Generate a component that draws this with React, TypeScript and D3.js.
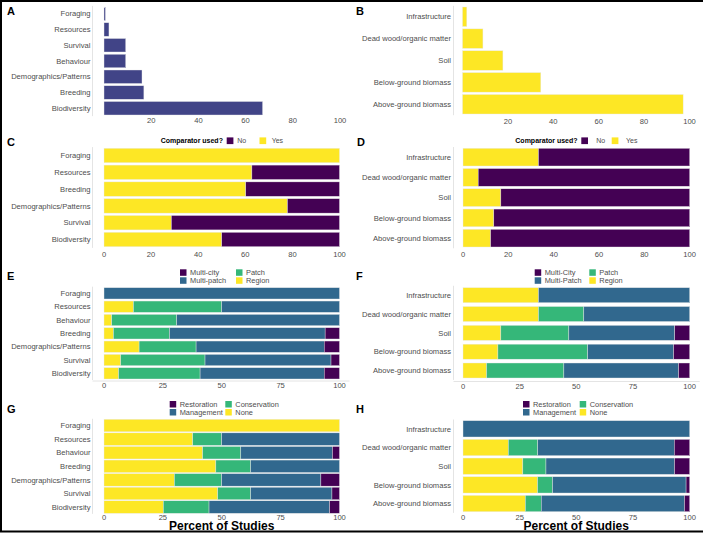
import React from "react";
import * as d3 from "d3";

// ---------- DATA ----------
const catsAnimal = ["Foraging", "Resources", "Survival", "Behaviour", "Demographics/Patterns", "Breeding", "Biodiversity"];
const valsA = [0.6, 2.1, 9.2, 9.2, 16.1, 16.9, 67.2];

const catsHabitat = ["Infrastructure", "Dead wood/organic matter", "Soil", "Below-ground biomass", "Above-ground biomass"];
const valsB = [1.9, 9, 17.8, 34.5, 97.2];

const catsC = ["Foraging", "Resources", "Breeding", "Demographics/Patterns", "Survival", "Biodiversity"];
const yesC = [100, 62.8, 60.2, 77.9, 28.6, 50];
const noC = yesC.map((v) => 100 - v);

const yesD = [33.3, 6.7, 16.7, 13.6, 12.2];
const noD = yesD.map((v) => 100 - v);

const catsE = ["Foraging", "Resources", "Behaviour", "Breeding", "Demographics/Patterns", "Survival", "Biodiversity"];
const regionE = [0, 12.5, 3.3, 4, 14.9, 7.1, 6.2];
const patchE = [0, 37.5, 27.6, 23.8, 24.2, 35.8, 34.6];
const multiPatchE = [100, 50, 69.1, 66.1, 54.4, 53.5, 52.7];
const multiCityE = [0, 0, 0, 6.1, 6.5, 3.6, 6.5];

const regionF = [33.3, 33.3, 16.7, 15.4, 10.4];
const patchF = [0, 20, 30, 39.6, 34.1];
const multiPatchF = [66.7, 46.7, 46.7, 37.9, 50.6];
const multiCityF = [0, 0, 6.6, 7.1, 4.9];

const catsG = ["Foraging", "Resources", "Behaviour", "Breeding", "Demographics/Patterns", "Survival", "Biodiversity"];
const noneG = [100, 37.7, 41.9, 47.5, 29.9, 48.3, 25.2];
const consG = [0, 12.3, 16.2, 14.8, 20.1, 14, 19.4];
const mgmtG = [0, 50, 38.9, 37.7, 42.1, 34.5, 51.2];
const restG = [0, 0, 3, 0, 7.9, 3.2, 4.2];

const noneH = [0, 20, 26.4, 32.9, 27.5];
const consH = [0, 13, 10.2, 6.6, 7];
const mgmtH = [100, 60.2, 56.7, 58.9, 63.2];
const restH = [0, 6.8, 6.7, 1.6, 2.3];

const ticksAB = [20, 40, 60, 80, 100];
const ticksCD = [0, 20, 40, 60, 80, 100];
const ticksEH = [0, 25, 50, 75, 100];

// ---------- STYLE ----------
const NAVY = "#414487";
const PURPLE = "#440154";
const BLUE = "#31688E";
const GREEN = "#35B779";
const YELLOW = "#FDE725";
const FONT = "Liberation Sans, Arial, sans-serif";
const TXT = "#4d4d4d";

type Series = { name: string; color: string; values: number[] };

type PanelProps = {
  cats: string[];
  series: Series[];
  x0: number;
  x100: number;
  top: number;
  bottom: number;
  h: number;
  ticks: number[];
  tickY: number;
  labelX: number;
  axisX: number;
  xAxisLine?: number;
};

function Panel(p: PanelProps) {
  const n = p.cats.length;
  const s = (p.bottom - p.top - p.h) / (n - 1);
  const pad = 1 - p.h / s;
  const start = p.top - (s - p.h) / 2;
  const y = d3.scaleBand<string>().domain(p.cats).range([start, start + n * s]).paddingInner(pad).paddingOuter(pad / 2);
  const x = d3.scaleLinear().domain([0, 100]).range([p.x0, p.x100]);
  const rows = p.cats.map((c, i) => {
    const o: any = { cat: c };
    p.series.forEach((se) => (o[se.name] = se.values[i]));
    return o;
  });
  const stacked = d3.stack<any>().keys(p.series.map((se) => se.name))(rows);
  return (
    <g>
      <line x1={p.axisX} x2={p.axisX} y1={start} y2={start + n * s} stroke="#e4e4e4" strokeWidth={1} />
      {p.xAxisLine !== undefined && (
        <line x1={p.axisX} x2={p.x100 + 10} y1={p.xAxisLine} y2={p.xAxisLine} stroke="#e4e4e4" strokeWidth={1} />
      )}
      {stacked.map((layer, li) => (
        <g key={li}>
          {layer.map((d, i) =>
            d[1] - d[0] > 0 ? (
              <rect
                key={i}
                x={x(d[0])}
                y={y(p.cats[i])}
                width={x(d[1]) - x(d[0])}
                height={y.bandwidth()}
                fill={p.series[li].color}
                stroke="#e8e8e8"
                strokeWidth={0.4}
              />
            ) : null
          )}
        </g>
      ))}
      {p.cats.map((c) => (
        <text key={c} x={p.labelX} y={(y(c) as number) + y.bandwidth() / 2} dy="0.35em" textAnchor="end" fontSize={7.6} fill={TXT} fontFamily={FONT}>
          {c}
        </text>
      ))}
      {p.ticks.map((t) => (
        <text key={t} x={x(t)} y={p.tickY} textAnchor="middle" fontSize={7.6} fill={TXT} fontFamily={FONT}>
          {t}
        </text>
      ))}
    </g>
  );
}

function Letter({ x, y, t }: { x: number; y: number; t: string }) {
  return (
    <text x={x} y={y} fontSize={11} fontWeight="bold" fontFamily={FONT} fill="#000">
      {t}
    </text>
  );
}

function Legend2x2({ x1, x2, y1, y2, items }: { x1: number; x2: number; y1: number; y2: number; items: [string, string][] }) {
  const pos = [
    [x1, y1],
    [x2, y1],
    [x1, y2],
    [x2, y2],
  ];
  return (
    <g>
      {items.map(([label, color], i) => (
        <g key={label}>
          <rect x={pos[i][0]} y={pos[i][1]} width={6.5} height={6.5} fill={color} />
          <text x={pos[i][0] + 10} y={pos[i][1] + 3.3} dy="0.35em" fontSize={7.4} fill={TXT} fontFamily={FONT}>
            {label}
          </text>
        </g>
      ))}
    </g>
  );
}

function CompLegend({ tx, sq1, t1, sq2, t2, cy }: { tx: number; sq1: number; t1: number; sq2: number; t2: number; cy: number }) {
  return (
    <g fontFamily={FONT}>
      <text x={tx} y={cy} dy="0.35em" fontSize={7} fontWeight="bold" fill="#000">
        Comparator used?
      </text>
      <rect x={sq1} y={cy - 3.3} width={6.7} height={6.7} fill={PURPLE} />
      <text x={t1} y={cy} dy="0.35em" fontSize={7} fill={TXT}>
        No
      </text>
      <rect x={sq2} y={cy - 3.3} width={6.7} height={6.7} fill={YELLOW} />
      <text x={t2} y={cy} dy="0.35em" fontSize={7} fill={TXT}>
        Yes
      </text>
    </g>
  );
}

export default function App() {
  const L = { x0: 104, x100: 339.5, labelX: 90.5, axisX: 92.5 };
  const R = { x0: 463, x100: 689.7, labelX: 451, axisX: 453.5 };
  return (
    <svg width={703} height={533} style={{ position: "absolute", left: 0, top: 0, background: "#fff" }}>
      <rect x={0} y={0} width={703} height={533} fill="#fff" />
      {/* A */}
      <Letter x={7} y={15} t="A" />
      <Panel cats={catsAnimal} series={[{ name: "v", color: NAVY, values: valsA }]} x0={104} x100={340} top={7} bottom={115} h={13.5} ticks={ticksAB} tickY={123} labelX={90.5} axisX={92.5} />
      {/* B */}
      <Letter x={356} y={15} t="B" />
      <Panel cats={catsHabitat} series={[{ name: "v", color: YELLOW, values: valsB }]} x0={462.5} x100={689.5} top={7} bottom={114} h={19.5} ticks={ticksAB} tickY={124} labelX={451} axisX={453.5} />
      {/* C */}
      <Letter x={7} y={146} t="C" />
      <CompLegend tx={160.7} sq1={226.7} t1={237.3} sq2={259.5} t2={271.7} cy={140.7} />
      <Panel cats={catsC} series={[{ name: "Yes", color: YELLOW, values: yesC }, { name: "No", color: PURPLE, values: noC }]} {...L} top={148.3} bottom={246.7} h={14.4} ticks={ticksCD} tickY={256.5} />
      {/* D */}
      <Letter x={357} y={146} t="D" />
      <CompLegend tx={515.3} sq1={581.3} t1={596.3} sq2={611.7} t2={626} cy={140.7} />
      <Panel cats={catsHabitat} series={[{ name: "Yes", color: YELLOW, values: yesD }, { name: "No", color: PURPLE, values: noD }]} {...R} top={148.3} bottom={247} h={17.7} ticks={ticksCD} tickY={256.5} />
      {/* E */}
      <Letter x={7} y={280} t="E" />
      <Legend2x2 x1={180} x2={236} y1={269.3} y2={277.3} items={[["Multi-city", PURPLE], ["Patch", GREEN], ["Multi-patch", BLUE], ["Region", YELLOW]]} />
      <Panel
        cats={catsE}
        series={[
          { name: "Region", color: YELLOW, values: regionE },
          { name: "Patch", color: GREEN, values: patchE },
          { name: "Multi-patch", color: BLUE, values: multiPatchE },
          { name: "Multi-city", color: PURPLE, values: multiCityE },
        ]}
        {...L}
        top={287.7}
        bottom={379}
        h={11.3}
        ticks={ticksEH}
        tickY={388}
        xAxisLine={381}
      />
      {/* F */}
      <Letter x={356} y={280} t="F" />
      <Legend2x2 x1={534.7} x2={589.3} y1={269.3} y2={277.3} items={[["Multi-City", PURPLE], ["Patch", GREEN], ["Multi-Patch", BLUE], ["Region", YELLOW]]} />
      <Panel
        cats={catsHabitat}
        series={[
          { name: "Region", color: YELLOW, values: regionF },
          { name: "Patch", color: GREEN, values: patchF },
          { name: "Multi-Patch", color: BLUE, values: multiPatchF },
          { name: "Multi-City", color: PURPLE, values: multiCityF },
        ]}
        {...R}
        top={287.7}
        bottom={378}
        h={15}
        ticks={ticksEH}
        tickY={389}
        xAxisLine={381.5}
      />
      {/* G */}
      <Letter x={7} y={412.5} t="G" />
      <Legend2x2 x1={169.7} x2={225.3} y1={401} y2={409} items={[["Restoration", PURPLE], ["Conservation", GREEN], ["Management", BLUE], ["None", YELLOW]]} />
      <Panel
        cats={catsG}
        series={[
          { name: "None", color: YELLOW, values: noneG },
          { name: "Conservation", color: GREEN, values: consG },
          { name: "Management", color: BLUE, values: mgmtG },
          { name: "Restoration", color: PURPLE, values: restG },
        ]}
        {...L}
        top={419.3}
        bottom={513.3}
        h={12.5}
        ticks={ticksEH}
        tickY={519.8}
      />
      <text x={221.7} y={530} textAnchor="middle" fontSize={12} fontWeight="bold" fontFamily={FONT} fill="#000">
        Percent of Studies
      </text>
      {/* H */}
      <Letter x={356} y={412.5} t="H" />
      <Legend2x2 x1={523} x2={579.7} y1={401} y2={409} items={[["Restoration", PURPLE], ["Conservation", GREEN], ["Management", BLUE], ["None", YELLOW]]} />
      <Panel
        cats={catsHabitat}
        series={[
          { name: "None", color: YELLOW, values: noneH },
          { name: "Conservation", color: GREEN, values: consH },
          { name: "Management", color: BLUE, values: mgmtH },
          { name: "Restoration", color: PURPLE, values: restH },
        ]}
        {...R}
        top={420.7}
        bottom={511.7}
        h={16.3}
        ticks={ticksEH}
        tickY={519.8}
      />
      <text x={576.2} y={530} textAnchor="middle" fontSize={12} fontWeight="bold" fontFamily={FONT} fill="#000">
        Percent of Studies
      </text>
      {/* frame */}
      <line x1={0} x2={703} y1={1} y2={1} stroke="#000" strokeWidth={2} />
      <line x1={1} x2={1} y1={0} y2={532} stroke="#000" strokeWidth={2} />
      <line x1={0} x2={703} y1={531.5} y2={531.5} stroke="#000" strokeWidth={2} />
    </svg>
  );
}
